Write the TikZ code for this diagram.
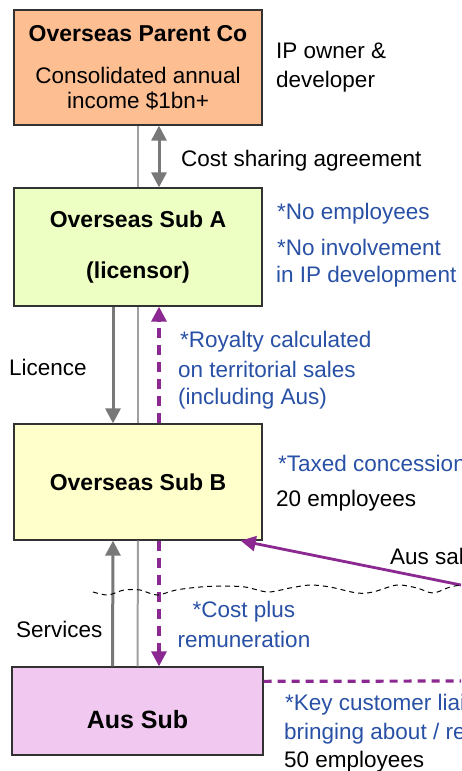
\documentclass[tikz,border=0pt]{standalone}
\usepackage{fontspec}
\setmainfont{Liberation Sans}
\usetikzlibrary{arrows.meta}

\definecolor{parentfill}{RGB}{253,190,146}
\definecolor{subafill}{RGB}{238,255,196}
\definecolor{subbfill}{RGB}{255,255,204}
\definecolor{ausfill}{RGB}{240,200,240}
\definecolor{noteblue}{RGB}{40,80,165}
\definecolor{paypurple}{RGB}{140,40,145}
\definecolor{flowgray}{RGB}{120,120,120}
\definecolor{linkgray}{RGB}{160,160,160}
\definecolor{boxline}{RGB}{50,50,50}

\begin{document}
\begin{tikzpicture}[x=1pt,y=-1pt,
    >={Triangle[length=15pt,width=15pt]},
    box/.style = {
      draw = boxline,
      line width = 1.3pt,
      minimum width = 248pt,
      inner sep = 0pt,
      align = center,
      font = \fontsize{23}{25}\selectfont\bfseries
    },
    txt/.style = {anchor = base west, inner sep = 0pt, font = \fontsize{22.5}{27}\selectfont},
    note/.style = {txt, text = noteblue},
    link/.style = {draw = linkgray, line width = 2pt},
    flow/.style = {draw = flowgray, line width = 3pt},
    pay/.style = {draw = paypurple, line width = 3.2pt, dash pattern = on 10pt off 7pt}
  ]
  \useasboundingbox (0,0) rectangle (461,771);
  \clip (0,0) rectangle (461,771);

  % entities
  \node[box, fill=parentfill, minimum height=115pt] (parent) at (138,67.5)
    {Overseas Parent Co\\[17pt]\mdseries\fontsize{22.5}{25}\selectfont Consolidated annual\\\mdseries\fontsize{22.5}{25}\selectfont income \$1bn+};
  \node[box, fill=subafill, minimum height=118pt] (suba) at (138,247)
    {Overseas Sub A\\[26pt](licensor)};
  \node[box, fill=subbfill, minimum height=116pt] (subb) at (138,482) {Overseas Sub B};
  \node[box, fill=ausfill, minimum width=251pt, minimum height=88pt, text height=36pt,
    font=\fontsize{25}{27}\selectfont\bfseries] (aus) at (137.5,711) {Aus Sub};

  \coordinate (salesend) at (461,585);
  \coordinate (keyend) at (461,681);

  % ownership line
  \draw[link] (parent.south) -- (suba.north);
  \draw[link] (suba.south) -- (subb.north);
  \draw[link] (subb.south) -- (aus.north);

  % flows
  \draw[flow, <->] ([xshift=21pt]parent.south) -- ([xshift=21pt]suba.north);
  \draw[flow, ->] ([xshift=-25pt]suba.south) -- ([xshift=-25pt]subb.north);
  \draw[flow, ->] ([xshift=-25pt]aus.north) -- ([xshift=-25pt]subb.south);
  \draw[pay, ->] ([xshift=21pt]subb.north) -- ([xshift=21pt]suba.south);
  \draw[pay, ->] ([xshift=21pt]subb.south) -- ([xshift=21.5pt]aus.north);
  \draw[paypurple, line width=2.8pt, ->] (salesend) -- ([xshift=-22pt]subb.south east);
  \draw[pay, dash pattern=on 8pt off 6pt] ([yshift=-15pt]aus.north east) -- (keyend);

  % border line
  \draw[black, line width=1pt, dash pattern=on 5pt off 4pt] plot[smooth] coordinates
    {(93,592) (108,595) (124,590) (140,590) (157,595) (176,590) (200,587) (222,586) (245,587)
     (268,592) (290,588) (310,585) (330,587) (357,593) (373,592) (397,585) (417,588)
     (433,593) (450,587) (461,585)};

  % labels
  \node[txt] (ipowner) at (276,58) {IP owner \&};
  \node[txt] (ipdev) at (276,87) {developer};
  \node[txt] (costshare) at (181,166) {Cost sharing agreement};
  \node[note] (noemp) at (277,219) {*No employees};
  \node[note] (noinv) at (277,255) {*No involvement};
  \node[note] (noinvb) at (276,282) {in IP development};
  \node[txt] (licence) at (9,375) {Licence};
  \node[note] (roya) at (180,347) {*Royalty calculated};
  \node[note] (royb) at (178,377) {on territorial sales};
  \node[note] (royc) at (178,404) {(including Aus)};
  \node[note] (taxed) at (278,471) {*Taxed concessionally};
  \node[txt] (empb) at (276,506) {20 employees};
  \node[txt] (aussales) at (390,564) {Aus sales};
  \node[note, anchor=base] (costplus) at (244,617) {*Cost plus};
  \node[note, anchor=base] (remun) at (244,647) {remuneration};
  \node[txt] (services) at (16,637) {Services};
  \node[note] (keya) at (285,710) {*Key customer liaison};
  \node[note] (keyb) at (284,739) {bringing about / retaining};
  \node[txt] (empaus) at (284,767) {50 employees};
\end{tikzpicture}
\end{document}
